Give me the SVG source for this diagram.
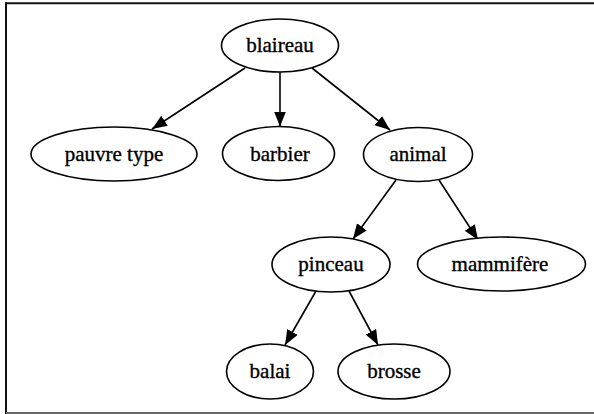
<svg xmlns="http://www.w3.org/2000/svg" width="594" height="414" viewBox="0 0 594 414">
<style>
.node ellipse{fill:#fff;stroke:#000;stroke-width:1.6}
.node text{font-family:"Liberation Serif","Times New Roman",serif;font-size:21px;fill:#000;stroke:#000;stroke-width:0.35;text-anchor:middle}
.edge{stroke:#000;stroke-width:1.6;fill:none;marker-end:url(#arrow)}
</style>
<defs>
<marker id="arrow" markerUnits="userSpaceOnUse" markerWidth="16" markerHeight="13" refX="15" refY="6" orient="auto">
<path d="M0,0 L15,6 L0,12 z" fill="#000"/>
</marker>
</defs>
<rect x="0" y="0" width="594" height="414" fill="#fff"/>
<g id="frame">
<line x1="6" y1="3.3" x2="594" y2="3.3" stroke="#111" stroke-width="2"/>
<line x1="6" y1="2.3" x2="6" y2="414" stroke="#111" stroke-width="2"/>
<line x1="6" y1="413" x2="594" y2="413" stroke="#666" stroke-width="2"/>
</g>
<g id="edges">
<path class="edge" d="M245,68 L152,129"/>
<path class="edge" d="M280,72 L280,126.5"/>
<path class="edge" d="M312,68 L390,130"/>
<path class="edge" d="M396,180 L353,239"/>
<path class="edge" d="M439,180 L478,240"/>
<path class="edge" d="M316,291 L285,345"/>
<path class="edge" d="M349,291 L378,345"/>
</g>
<g id="blaireau" class="node"><ellipse cx="280" cy="45.5" rx="58.5" ry="26.5"/><text x="280" y="52">blaireau</text></g>
<g id="pauvre_type" class="node"><ellipse cx="114" cy="154" rx="83" ry="27"/><text x="114" y="160.5">pauvre type</text></g>
<g id="barbier" class="node"><ellipse cx="278.5" cy="153.5" rx="56" ry="27"/><text x="280" y="160.5">barbier</text></g>
<g id="animal" class="node"><ellipse cx="418" cy="154.5" rx="54.5" ry="27"/><text x="418" y="161">animal</text></g>
<g id="pinceau" class="node"><ellipse cx="331" cy="264.5" rx="59" ry="27.5"/><text x="331" y="271">pinceau</text></g>
<g id="mammifere" class="node"><ellipse cx="501.5" cy="264" rx="84" ry="27"/><text x="500" y="270.5">mammifère</text></g>
<g id="balai" class="node"><ellipse cx="270" cy="371.5" rx="43.5" ry="27.5"/><text x="270" y="378">balai</text></g>
<g id="brosse" class="node"><ellipse cx="394" cy="371.5" rx="56" ry="27.5"/><text x="394" y="378">brosse</text></g>
</svg>
